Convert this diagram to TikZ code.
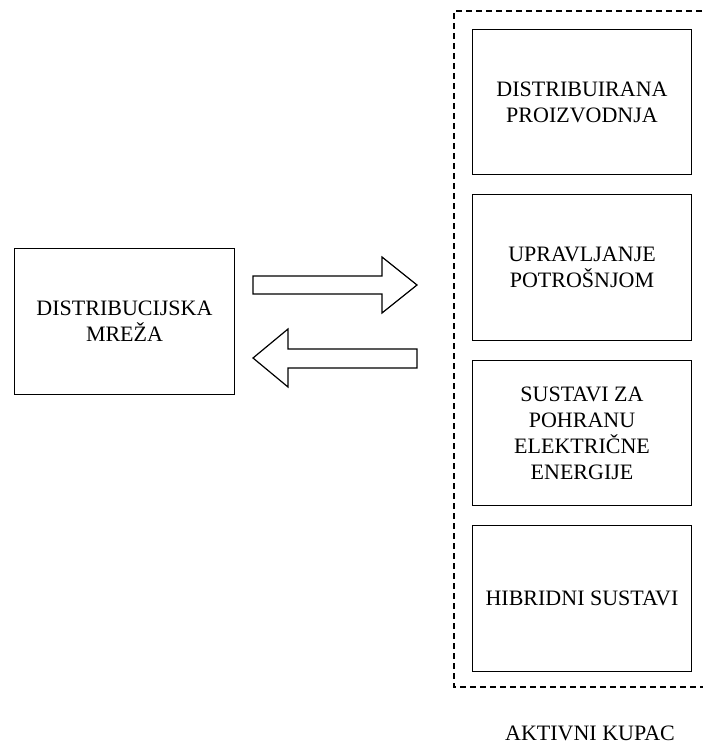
\documentclass[tikz,border=0pt]{standalone}
\usepackage{fontspec}
\setmainfont{Liberation Serif}
\usetikzlibrary{positioning}

\begin{document}
\begin{tikzpicture}[
    x=1pt, y=-1pt,
    node distance=18.8pt,
    box/.style={draw, line width=1.2pt, minimum width=219.5pt, minimum height=145.5pt, inner sep=0pt, align=center, font=\fontsize{22}{26}\selectfont},
    blockarrow/.style={draw, line width=1.2pt, line join=miter},
    frame/.style={draw, line width=1.2pt, dash pattern=on 6pt off 4pt}
]
\useasboundingbox (0,0) rectangle (703,746);

\node[box] (mreza) at (124.5,321.5) {DISTRIBUCIJSKA\\MREŽA};
\node[box] (proizvodnja) at (582,102) {DISTRIBUIRANA\\PROIZVODNJA};
\node[box, below=of proizvodnja] (potrosnja) {UPRAVLJANJE\\POTROŠNJOM};
\node[box, below=of potrosnja] (pohrana) {SUSTAVI ZA\\POHRANU\\ELEKTRIČNE\\ENERGIJE};
\node[box, below=of pohrana] (hibridni) {HIBRIDNI SUSTAVI};

% granica aktivnog kupca
\draw[frame] (712,11) -| (454,687) -- (712,687);
\node[anchor=base, font=\fontsize{22}{26}\selectfont] (kupac) at (590,740) {AKTIVNI KUPAC};

% tokovi energije
\draw[blockarrow] (253,276) -- (382,276) -- (382,257) -- (417,285) -- (382,313) -- (382,294) -- (253,294) -- cycle;
\draw[blockarrow] (417,349) -- (288,349) -- (288,329) -- (253,358) -- (288,387) -- (288,368) -- (417,368) -- cycle;

\end{tikzpicture}
\end{document}
